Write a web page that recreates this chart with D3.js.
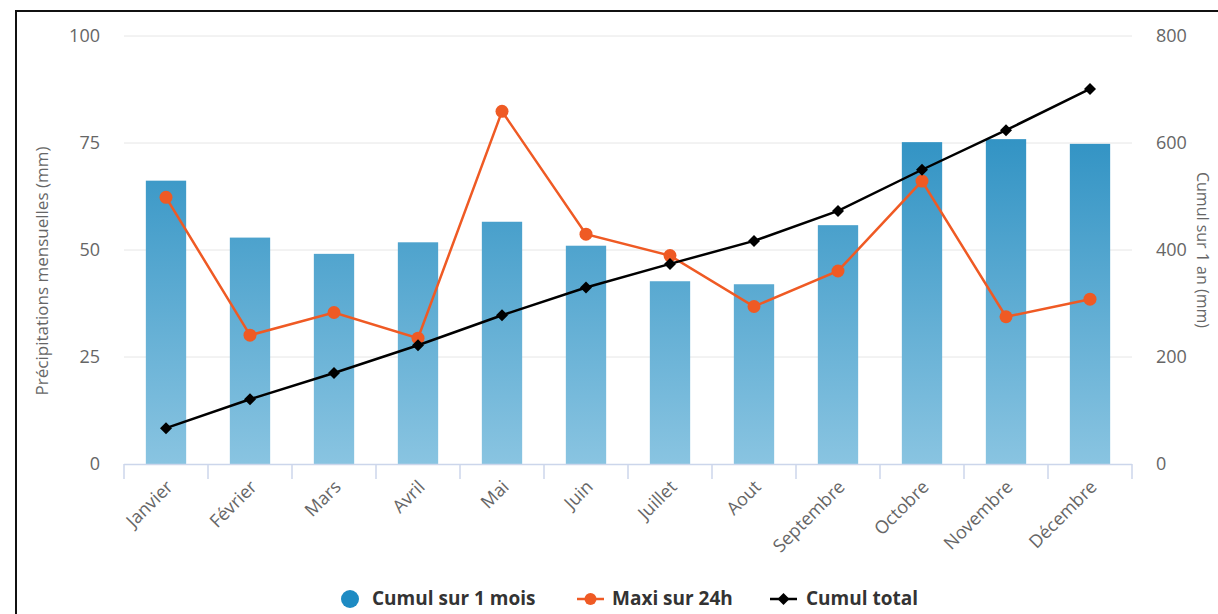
<!DOCTYPE html>
<html>
<head>
  <meta charset="UTF-8">
  <title>Précipitations</title>
  <style>
    body { margin: 0; background: white; font-family: 'Open Sans', sans-serif; }
    svg { display: block; }
    .tick-label { fill: #666666; font-size: 18px; }
    .axis-title { fill: #666666; font-size: 17px; }
    .legend text { fill: #333333; font-size: 19px; font-weight: bold; font-family: 'Open Sans', sans-serif; }
  </style>
</head>
<body>
  <svg id="chart" width="1218" height="614"></svg>

  <script src="https://d3js.org/d3.v7.min.js"></script>
  <script>
    // data
    const months = ["Janvier", "Février", "Mars", "Avril", "Mai", "Juin", "Juillet", "Aout", "Septembre", "Octobre", "Novembre", "Décembre"];
    const cumulMois = [66.2, 52.9, 49.1, 51.8, 56.6, 51.0, 42.7, 42.0, 55.8, 75.2, 75.9, 74.8];
    const maxi24h = [62.3, 30.1, 35.4, 29.4, 82.4, 53.7, 48.7, 36.8, 45.1, 66.1, 34.4, 38.5];
    const cumulTotal = [67, 121, 170, 222, 278, 330, 374, 417, 473, 550, 624, 701];
    const leftTicks = [0, 25, 50, 75, 100];
    const rightTicks = [0, 200, 400, 600, 800];

    let svg = d3.select("#chart");

    // frame around the picture
    svg.append("rect")
      .attr("x", 16).attr("y", 11)
      .attr("width", 1220).attr("height", 620)
      .attr("fill", "none").attr("stroke", "#111").attr("stroke-width", 2);

    let plotLeft = 124, plotRight = 1132, plotTop = 36, plotBottom = 464;

    let x = d3.scaleBand().domain(months).range([plotLeft, plotRight]).paddingInner(0.52).paddingOuter(0.26);
    let yL = d3.scaleLinear().domain([0, 100]).range([plotBottom, plotTop]);
    let yR = d3.scaleLinear().domain([0, 800]).range([plotBottom, plotTop]);
    let step = x.step();
    let cx = d => x(d) + x.bandwidth() / 2;

    // bar gradient (across whole plot height)
    let grad = svg.append("defs").append("linearGradient")
      .attr("id", "barGrad").attr("gradientUnits", "userSpaceOnUse")
      .attr("x1", 0).attr("x2", 0).attr("y1", plotTop).attr("y2", plotBottom);
    grad.append("stop").attr("offset", "0%").attr("stop-color", "#1784bb");
    grad.append("stop").attr("offset", "100%").attr("stop-color", "#89c4e1");

    // grid
    svg.append("g").selectAll("line")
      .data(leftTicks.filter(d => d > 0))
      .join("line")
      .attr("x1", plotLeft).attr("x2", plotRight)
      .attr("y1", d => yL(d)).attr("y2", d => yL(d))
      .attr("stroke", "#e6e6e6").attr("stroke-width", 1);

    // left tick labels
    svg.append("g").selectAll("text")
      .data(leftTicks)
      .join("text")
      .attr("class", "tick-label")
      .attr("x", 100).attr("y", d => yL(d) + 6)
      .attr("text-anchor", "end")
      .text(d => d);

    // right tick labels
    svg.append("g").selectAll("text")
      .data(rightTicks)
      .join("text")
      .attr("class", "tick-label")
      .attr("x", 1156).attr("y", d => yR(d) + 6)
      .attr("text-anchor", "start")
      .text(d => d);

    // axis titles
    svg.append("text")
      .attr("class", "axis-title")
      .attr("transform", "translate(48,271) rotate(-90)")
      .attr("text-anchor", "middle")
      .text("Précipitations mensuelles (mm)");

    svg.append("text")
      .attr("class", "axis-title")
      .style("font-size", "16px")
      .attr("transform", "translate(1197,250) rotate(90)")
      .attr("text-anchor", "middle")
      .text("Cumul sur 1 an (mm)");

    // bars
    svg.append("g").selectAll("rect")
      .data(months)
      .join("rect")
      .attr("x", d => x(d))
      .attr("width", x.bandwidth())
      .attr("y", (d, i) => yL(cumulMois[i]))
      .attr("height", (d, i) => plotBottom - yL(cumulMois[i]))
      .attr("fill", "url(#barGrad)");

    // x axis line and ticks
    svg.append("line")
      .attr("x1", plotLeft).attr("x2", plotRight)
      .attr("y1", plotBottom + 0.5).attr("y2", plotBottom + 0.5)
      .attr("stroke", "#ccd6eb").attr("stroke-width", 1.5);
    svg.append("g").selectAll("line")
      .data(d3.range(months.length + 1))
      .join("line")
      .attr("x1", i => plotLeft + i * step).attr("x2", i => plotLeft + i * step)
      .attr("y1", plotBottom).attr("y2", plotBottom + 15)
      .attr("stroke", "#ccd6eb").attr("stroke-width", 1.5);

    // x labels
    svg.append("g").selectAll("text")
      .data(months)
      .join("text")
      .attr("class", "tick-label")
      .attr("text-anchor", "end")
      .attr("transform", d => "translate(" + (cx(d) + 8) + "," + (plotBottom + 24) + ") rotate(-45)")
      .text(d => d);

    // orange line
    let lineL = d3.line().x((d, i) => cx(months[i])).y(d => yL(d));
    svg.append("path")
      .datum(maxi24h)
      .attr("d", lineL)
      .attr("fill", "none").attr("stroke", "#ef5a24").attr("stroke-width", 2.5);
    svg.append("g").selectAll("circle")
      .data(maxi24h)
      .join("circle")
      .attr("cx", (d, i) => cx(months[i]))
      .attr("cy", d => yL(d))
      .attr("r", 6.5)
      .attr("fill", "#ef5a24");

    // black cumulative line
    let lineR = d3.line().x((d, i) => cx(months[i])).y(d => yR(d));
    svg.append("path")
      .datum(cumulTotal)
      .attr("d", lineR)
      .attr("fill", "none").attr("stroke", "#000").attr("stroke-width", 2.5);
    let diamond = "M0,-6L6,0L0,6L-6,0Z";
    svg.append("g").selectAll("path")
      .data(cumulTotal)
      .join("path")
      .attr("d", diamond)
      .attr("transform", (d, i) => "translate(" + cx(months[i]) + "," + yR(d) + ")")
      .attr("fill", "#000");

    // legend
    let legend = svg.append("g").attr("class", "legend");
    let ly = 599;
    legend.append("circle").attr("cx", 350).attr("cy", ly).attr("r", 9).attr("fill", "#1e8bc3");
    legend.append("text").attr("x", 372).attr("y", ly + 6).text("Cumul sur 1 mois");

    legend.append("line").attr("x1", 577).attr("x2", 604).attr("y1", ly).attr("y2", ly)
      .attr("stroke", "#ef5a24").attr("stroke-width", 2.5);
    legend.append("circle").attr("cx", 590.5).attr("cy", ly).attr("r", 6).attr("fill", "#ef5a24");
    legend.append("text").attr("x", 612).attr("y", ly + 6).text("Maxi sur 24h");

    legend.append("line").attr("x1", 770).attr("x2", 797).attr("y1", ly).attr("y2", ly)
      .attr("stroke", "#000").attr("stroke-width", 2.5);
    legend.append("path").attr("d", diamond).attr("transform", "translate(783.5," + ly + ")").attr("fill", "#000");
    legend.append("text").attr("x", 806).attr("y", ly + 6).text("Cumul total");
  </script>
</body>
</html>
